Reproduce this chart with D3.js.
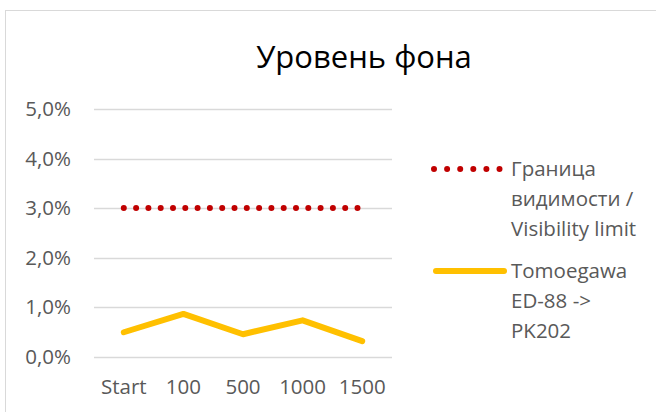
<!DOCTYPE html>
<html>
<head>
<meta charset="utf-8">
<script src="https://cdn.jsdelivr.net/npm/d3@7"></script>
<style>
  body { margin: 0; background: #fff; }
  text { font-family: "Open Sans", sans-serif; }
</style>
</head>
<body>
<svg width="656" height="412"></svg>
<script>
var categories = ["Start", "100", "500", "1000", "1500"];
var limitValues = [3.0, 3.0, 3.0, 3.0, 3.0];
var tomoegawaValues = [0.49, 0.86, 0.45, 0.73, 0.31];
var yTicks = [0, 1, 2, 3, 4, 5];
var seriesNames = [["Граница", "видимости /", "Visibility limit"], ["Tomoegawa", "ED-88 ->", "PK202"]];

var svg = d3.select("svg"),
    width = +svg.attr("width"),
    height = +svg.attr("height");

// chart frame
svg.append("rect")
    .attr("x", 5.5).attr("y", 10.5)
    .attr("width", 700).attr("height", 500)
    .attr("fill", "none")
    .attr("stroke", "#d9d9d9");

var plot = { left: 94, right: 392, top: 109, bottom: 356.5 };
var labelSize = 20.5;

var x = d3.scaleBand()
    .domain(categories)
    .range([plot.left, plot.right]);

var y = d3.scaleLinear()
    .domain([0, 5])
    .range([plot.bottom, plot.top]);

svg.append("text")
    .attr("x", 364).attr("y", 68)
    .attr("text-anchor", "middle")
    .attr("font-size", 31)
    .attr("fill", "#000")
    .text("Уровень фона");

// gridlines
svg.append("g")
    .selectAll("line")
    .data(yTicks)
    .enter().append("line")
      .attr("x1", plot.left).attr("x2", plot.right)
      .attr("y1", function(d) { return Math.round(y(d)) + 0.5; })
      .attr("y2", function(d) { return Math.round(y(d)) + 0.5; })
      .attr("stroke", "#d9d9d9")
      .attr("stroke-width", 1.3);

// y axis labels
var fmt = function(d) { return d.toFixed(1).replace(".", ",") + "%"; };
svg.append("g")
    .selectAll("text")
    .data(yTicks)
    .enter().append("text")
      .attr("x", 71)
      .attr("y", function(d) { return y(d); })
      .attr("dy", "0.35em")
      .attr("text-anchor", "end")
      .attr("font-size", labelSize)
      .attr("fill", "#595959")
      .text(fmt);

// x axis labels
svg.append("g")
    .selectAll("text")
    .data(categories)
    .enter().append("text")
      .attr("x", function(d) { return x(d) + x.bandwidth() / 2; })
      .attr("y", 387)
      .attr("dy", "0.35em")
      .attr("text-anchor", "middle")
      .attr("font-size", labelSize)
      .attr("fill", "#595959")
      .text(function(d) { return d; });

var line = d3.line()
    .x(function(d, i) { return x(categories[i]) + x.bandwidth() / 2; })
    .y(function(d) { return y(d); });

svg.append("path")
    .datum(limitValues)
    .attr("d", line)
    .attr("fill", "none")
    .attr("stroke", "#c00000")
    .attr("stroke-width", 6)
    .attr("stroke-linecap", "round")
    .attr("stroke-dasharray", "0 12.3");

svg.append("path")
    .datum(tomoegawaValues)
    .attr("d", line)
    .attr("fill", "none")
    .attr("stroke", "#ffc000")
    .attr("stroke-width", 6)
    .attr("stroke-linecap", "round")
    .attr("stroke-linejoin", "round");

// legend
var legend = svg.append("g");
legend.append("line")
    .attr("x1", 434).attr("x2", 500)
    .attr("y1", 169).attr("y2", 169)
    .attr("stroke", "#c00000")
    .attr("stroke-width", 6)
    .attr("stroke-linecap", "round")
    .attr("stroke-dasharray", "0 13.1");
legend.append("line")
    .attr("x1", 436).attr("x2", 504)
    .attr("y1", 271).attr("y2", 271)
    .attr("stroke", "#ffc000")
    .attr("stroke-width", 6)
    .attr("stroke-linecap", "round");

var legendY = [169, 271];
seriesNames.forEach(function(lines, s) {
  legend.selectAll(null)
      .data(lines)
      .enter().append("text")
        .attr("x", 511)
        .attr("y", function(d, i) { return legendY[s] + i * 29.7; })
        .attr("dy", "0.35em")
        .attr("font-size", labelSize)
        .attr("fill", "#595959")
        .text(function(d) { return d; });
});
</script>
</body>
</html>
